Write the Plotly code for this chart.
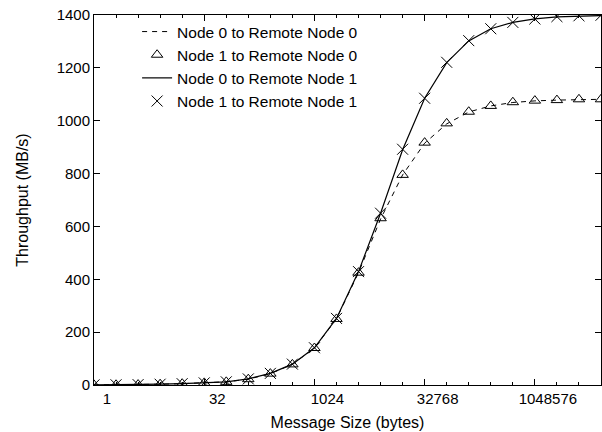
import plotly.graph_objects as go

sizes = [2 ** k for k in range(24)]
tick_vals = [1, 32, 1024, 32768, 1048576]
tick_text = ["1", "32", "1024", "32768", "1048576"]

n0_r0 = [0.4, 0.8, 1.5, 3, 5, 8, 12, 22, 43, 78, 140, 250, 425, 628, 795, 915, 988, 1033, 1056, 1069, 1075, 1078, 1080, 1081]
n1_r0 = [0.4, 0.8, 1.5, 3, 5, 8, 12, 22, 43, 78, 140, 250, 425, 631, 795, 917, 990, 1034, 1056, 1070, 1076, 1078, 1081, 1081]
n0_r1 = [0.4, 0.8, 1.5, 3, 5, 8, 12, 23, 44, 79, 141, 252, 429, 650, 890, 1085, 1220, 1302, 1348, 1372, 1385, 1393, 1396, 1398]
n1_r1 = [0.4, 0.8, 1.5, 3, 5, 8, 12, 23, 44, 79, 141, 252, 429, 650, 892, 1085, 1221, 1303, 1348, 1372, 1385, 1394, 1397, 1399]

fig = go.Figure()
fig.add_trace(go.Scatter(x=sizes, y=n0_r0, mode="lines", name="Node 0 to Remote Node 0",
                         line=dict(color="black", width=1, dash="5px,5px")))
fig.add_trace(go.Scatter(x=sizes, y=n1_r0, mode="markers", name="Node 1 to Remote Node 0",
                         marker=dict(symbol="triangle-up-open", size=10, color="black",
                                     line=dict(width=1, color="black"))))
fig.add_trace(go.Scatter(x=sizes, y=n0_r1, mode="lines", name="Node 0 to Remote Node 1",
                         line=dict(color="black", width=1.2)))
fig.add_trace(go.Scatter(x=sizes, y=n1_r1, mode="markers", name="Node 1 to Remote Node 1",
                         marker=dict(symbol="x-thin-open", size=11, color="black",
                                     line=dict(width=1, color="black"))))

font = dict(family="Liberation Sans, Arial, sans-serif", size=15, color="black")

fig.update_layout(
    width=602, height=432,
    margin=dict(l=94, r=1, t=15, b=47),
    paper_bgcolor="white", plot_bgcolor="white",
    font=font,
    showlegend=True,
    legend=dict(x=0.085, y=1.0, xanchor="left", yanchor="top",
                bgcolor="rgba(0,0,0,0)", font=dict(size=15.5),
                tracegroupgap=0, itemwidth=30),
    xaxis=dict(
        type="log", range=[0, 23 * 0.30103],
        tickmode="array", tickvals=tick_vals, ticktext=tick_text,
        ticks="inside", ticklen=6, tickcolor="black", tickwidth=1,
        showline=True, linecolor="black", linewidth=1, mirror="ticks",
        showgrid=False, zeroline=False,
        ticklabelshift=13,
        tickfont=dict(size=15),
        minor=dict(tickmode="array", tickvals=sizes, ticks="inside", ticklen=3,
                   tickcolor="black", showgrid=False),
        title=dict(text="Message Size (bytes)", standoff=10, font=dict(size=16)),
    ),
    yaxis=dict(
        range=[0, 1400], tickmode="array", tickvals=list(range(0, 1401, 200)),
        ticks="inside", ticklen=6, tickcolor="black", tickwidth=1,
        showline=True, linecolor="black", linewidth=1, mirror="ticks",
        showgrid=False, zeroline=False,
        tickfont=dict(size=15),
        title=dict(text="Throughput (MB/s)", standoff=24, font=dict(size=16)),
    ),
)

fig.write_html("out.html")
